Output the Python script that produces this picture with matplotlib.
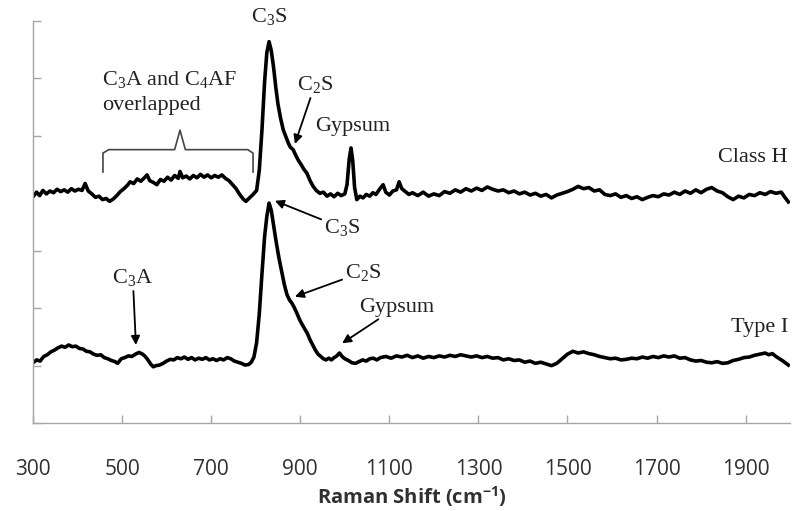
import numpy as np
import matplotlib
matplotlib.use('Agg')
import matplotlib.pyplot as plt

plt.rcParams['mathtext.fontset'] = 'custom'
plt.rcParams['mathtext.rm'] = 'Liberation Serif'
plt.rcParams['mathtext.it'] = 'Liberation Serif:italic'
plt.rcParams['mathtext.sf'] = 'Open Sans:bold'

# ---- Class H spectrum (offset upward) ----
classH_wn = [300, 308, 315, 322, 330, 338, 346, 354, 362, 370, 378, 386, 394, 402, 410, 417,
             424, 432, 440, 448, 456, 464, 472, 480, 488, 496, 504, 512, 518, 526, 534, 542,
             550, 556, 562, 570, 578, 586, 594, 602, 610, 618, 626, 630, 636, 644, 652, 660,
             668, 676, 684, 692, 700, 708, 716, 724, 732, 740, 748, 756, 764, 772, 778, 786,
             794, 802, 808, 814, 820, 825, 830, 835, 840, 845, 850, 856, 862, 868, 874, 878,
             884, 890, 896, 902, 908, 915, 922, 929, 936, 944, 952, 960, 968, 976, 984, 992,
             1000, 1005, 1010, 1014, 1018, 1022, 1027, 1034, 1041, 1048, 1056, 1063, 1070, 1078,
             1086, 1092, 1100, 1108, 1116, 1122, 1128, 1136, 1144,
             1152, 1164, 1176, 1188, 1200, 1212, 1224, 1236, 1248, 1260, 1272, 1284, 1296, 1308,
             1320, 1332, 1344, 1356, 1368, 1380, 1392, 1404, 1416, 1428, 1440, 1452, 1464, 1476,
             1488, 1500, 1512, 1524, 1536, 1548, 1560, 1572, 1584, 1596, 1608, 1620, 1632, 1644,
             1656, 1668, 1680, 1692, 1704, 1716, 1728, 1740, 1752, 1764, 1776, 1788, 1800, 1812,
             1824, 1836, 1848, 1860, 1872, 1884, 1896, 1908, 1920, 1932, 1944, 1956, 1968, 1980,
             1988, 1996]
classH_int = [3.94, 4.02, 3.96, 4.05, 3.99, 4.04, 4.01, 4.07, 4.03, 4.06, 4.02, 4.08, 4.04, 4.07, 4.05, 4.17,
              4.04, 3.99, 3.93, 3.95, 3.89, 3.91, 3.86, 3.90, 3.96, 4.03, 4.08, 4.14, 4.20, 4.17, 4.25, 4.21,
              4.27, 4.32, 4.22, 4.19, 4.15, 4.24, 4.21, 4.28, 4.23, 4.31, 4.26, 4.38, 4.27, 4.30, 4.25, 4.31,
              4.27, 4.33, 4.28, 4.32, 4.27, 4.31, 4.28, 4.32, 4.26, 4.22, 4.15, 4.08, 3.98, 3.90, 3.86, 3.92,
              3.98, 4.05, 4.40, 5.10, 5.95, 6.45, 6.64, 6.48, 6.20, 5.85, 5.55, 5.30, 5.10, 4.98, 4.86, 4.80,
              4.76, 4.66, 4.57, 4.50, 4.42, 4.35, 4.22, 4.12, 4.05, 4.00, 4.02, 3.95, 3.99, 3.94, 4.00, 3.96,
              3.99, 4.15, 4.60, 4.79, 4.55, 4.10, 3.89, 3.95, 3.92, 3.98, 3.95, 4.01, 3.98, 4.07,
              4.15, 4.02, 3.97, 4.04, 4.06, 4.20, 4.08, 4.03, 3.98,
              4.01, 3.96, 4.02, 3.95, 3.99, 3.96, 4.03, 4.00, 4.06, 4.02, 4.08, 4.04, 4.09, 4.05,
              4.11, 4.07, 4.04, 4.06, 4.01, 4.04, 3.99, 4.02, 3.97, 4.00, 3.95, 3.98, 3.92, 3.97,
              4.00, 4.03, 4.07, 4.12, 4.08, 4.10, 4.04, 4.06, 3.98, 3.96, 3.99, 3.93, 3.96, 3.91,
              3.94, 3.89, 3.93, 3.96, 3.94, 3.99, 3.97, 4.02, 3.98, 4.04, 4.00, 4.06, 4.01, 4.07,
              4.10, 4.04, 4.01, 3.94, 3.89, 3.95, 3.92, 3.98, 3.96, 4.01, 3.98, 4.03, 4.00, 4.02,
              3.93, 3.85]

# ---- Type I spectrum ----
typeI_wn = [300, 308, 316, 324, 332, 340, 348, 356, 364, 372, 380, 388, 396, 404, 412, 420,
            428, 436, 444, 452, 460, 468, 476, 484, 490, 498, 506, 514, 522, 530, 538, 546,
            552, 558, 564, 570, 576, 584, 592, 600, 608, 616, 624, 632, 640, 648, 656, 664,
            672, 680, 688, 696, 704, 712, 720, 728, 736, 744, 752, 760, 768, 776, 784, 790,
            796, 802, 808, 814, 820, 825, 830, 835, 840, 846, 852, 858, 864, 870, 876, 881,
            886, 892, 898, 904, 910, 916, 922, 928, 934, 940, 946, 952, 958, 964, 970, 976,
            982, 988, 994, 1000, 1008, 1016, 1024, 1032, 1040, 1048, 1056, 1064, 1072, 1080,
            1092, 1104, 1116, 1128, 1140, 1152, 1164, 1176, 1188, 1200, 1212, 1224, 1236, 1248,
            1260, 1272, 1284, 1296, 1308, 1320, 1332, 1344, 1356, 1368, 1380, 1392, 1404, 1416,
            1428, 1440, 1452, 1464, 1476, 1488, 1500, 1512, 1524, 1536, 1548, 1560, 1572, 1584,
            1596, 1608, 1620, 1632, 1644, 1656, 1668, 1680, 1692, 1704, 1716, 1728, 1740, 1752,
            1764, 1776, 1788, 1800, 1812, 1824, 1836, 1848, 1860, 1872, 1884, 1896, 1908, 1920,
            1932, 1944, 1952, 1960, 1968, 1976, 1984, 1996]
typeI_int = [1.05, 1.10, 1.08, 1.16, 1.19, 1.24, 1.27, 1.31, 1.34, 1.32, 1.36, 1.33, 1.34, 1.30, 1.29, 1.25,
             1.24, 1.20, 1.18, 1.19, 1.14, 1.12, 1.09, 1.07, 1.04, 1.12, 1.14, 1.17, 1.16, 1.20, 1.23, 1.20,
             1.16, 1.10, 1.03, 0.98, 1.00, 1.01, 1.04, 1.08, 1.11, 1.10, 1.14, 1.12, 1.15, 1.11, 1.14, 1.10,
             1.13, 1.11, 1.14, 1.10, 1.12, 1.09, 1.12, 1.10, 1.14, 1.12, 1.08, 1.06, 1.04, 1.01, 1.02, 1.06,
             1.15, 1.40, 1.90, 2.60, 3.25, 3.60, 3.83, 3.70, 3.45, 3.15, 2.88, 2.65, 2.42, 2.24, 2.14, 2.09,
             2.02, 1.92, 1.81, 1.72, 1.64, 1.56, 1.45, 1.36, 1.27, 1.20, 1.16, 1.12, 1.10, 1.13, 1.10, 1.14,
             1.17, 1.22, 1.16, 1.12, 1.09, 1.05, 1.04, 1.07, 1.10, 1.08, 1.12, 1.13, 1.10, 1.14,
             1.16, 1.13, 1.17, 1.15, 1.18, 1.14, 1.17, 1.13, 1.16, 1.14, 1.17, 1.15, 1.18, 1.16,
             1.19, 1.17, 1.15, 1.17, 1.14, 1.16, 1.13, 1.14, 1.10, 1.12, 1.09, 1.10, 1.06, 1.08,
             1.04, 1.06, 1.03, 1.00, 1.04, 1.12, 1.20, 1.25, 1.22, 1.24, 1.21, 1.19, 1.16, 1.14,
             1.12, 1.13, 1.10, 1.11, 1.13, 1.12, 1.15, 1.13, 1.16, 1.14, 1.17, 1.15, 1.17, 1.13,
             1.14, 1.10, 1.08, 1.09, 1.06, 1.05, 1.07, 1.04, 1.05, 1.09, 1.11, 1.14, 1.15, 1.18,
             1.20, 1.22, 1.19, 1.21, 1.16, 1.12, 1.08, 1.01]

xticks = [300, 500, 700, 900, 1100, 1300, 1500, 1700, 1900]
yticks = [0, 1, 2, 3, 4, 5, 6, 7]

fig = plt.figure(figsize=(7.92, 5.11), dpi=100)
ax = fig.add_axes([0.0417, 0.172, 0.956, 0.787])

ax.plot(classH_wn, classH_int, color='black', lw=2.6, solid_joinstyle='round')
ax.plot(typeI_wn, typeI_int, color='black', lw=2.6, solid_joinstyle='round')

ax.set_xlim(300, 2000)
ax.set_ylim(0, 7)
ax.set_xticks(xticks)
ax.set_yticks(yticks)
ax.set_yticklabels([])
for s in ['top', 'right']:
    ax.spines[s].set_visible(False)
for s in ['left', 'bottom']:
    ax.spines[s].set_color('#a6a6a6')
    ax.spines[s].set_linewidth(1.0)
ax.tick_params(axis='both', direction='in', length=6, width=1.0, color='#a6a6a6')
ax.tick_params(axis='x', pad=26, labelsize=15, labelcolor='#303030')
for lab in ax.get_xticklabels():
    lab.set_family('Open Sans')
ax.set_xlabel('Raman Shift (cm$^{\\mathsf{-1}}$)', family='Open Sans',
              fontweight='bold', fontsize=14.5, color='#303030', labelpad=3)

fs = 16
serif = dict(family='Liberation Serif', fontsize=fs, color='#222222', ha='center', va='center')
arrow = dict(arrowstyle='-|>', color='black', lw=1.3, mutation_scale=13, shrinkA=0, shrinkB=0)

# upper spectrum labels
ax.text(830, 7.07, 'C$_\\mathrm{3}$S', clip_on=False, **serif)
ax.annotate('C$_\\mathrm{2}$S', xy=(888, 4.86), xytext=(933, 5.89), arrowprops=arrow, **serif)
ax.text(1018, 5.17, 'Gypsum', **serif)
ax.text(455, 5.98, 'C$_\\mathrm{3}$A and C$_\\mathrm{4}$AF', ha='left', va='center',
        family='Liberation Serif', fontsize=fs, color='#222222')
ax.text(455, 5.52, 'overlapped', ha='left', va='center',
        family='Liberation Serif', fontsize=fs, color='#222222')
ax.text(1995, 4.62, 'Class H', family='Liberation Serif', fontsize=fs, color='#222222',
        ha='right', va='center')

# curly brace over 450-800
bx = [457, 457, 470, 618, 630, 642, 782, 794, 794]
by = [4.37, 4.70, 4.76, 4.76, 5.10, 4.76, 4.76, 4.70, 4.37]
ax.plot(bx, by, color='#444444', lw=1.2)

# lower spectrum labels
ax.annotate('C$_\\mathrm{3}$S', xy=(843, 3.87), xytext=(994, 3.40), arrowprops=arrow, **serif)
ax.annotate('C$_\\mathrm{2}$S', xy=(888, 2.20), xytext=(1041, 2.63), arrowprops=arrow, **serif)
ax.annotate('Gypsum', xy=(994, 1.39), xytext=(1117, 2.02), arrowprops=arrow, **serif)
ax.annotate('C$_\\mathrm{3}$A', xy=(531, 1.36), xytext=(524, 2.53), arrowprops=arrow, **serif)
ax.text(1995, 1.67, 'Type I', family='Liberation Serif', fontsize=fs, color='#222222',
        ha='right', va='center')

fig.savefig('out.png', dpi=100)
